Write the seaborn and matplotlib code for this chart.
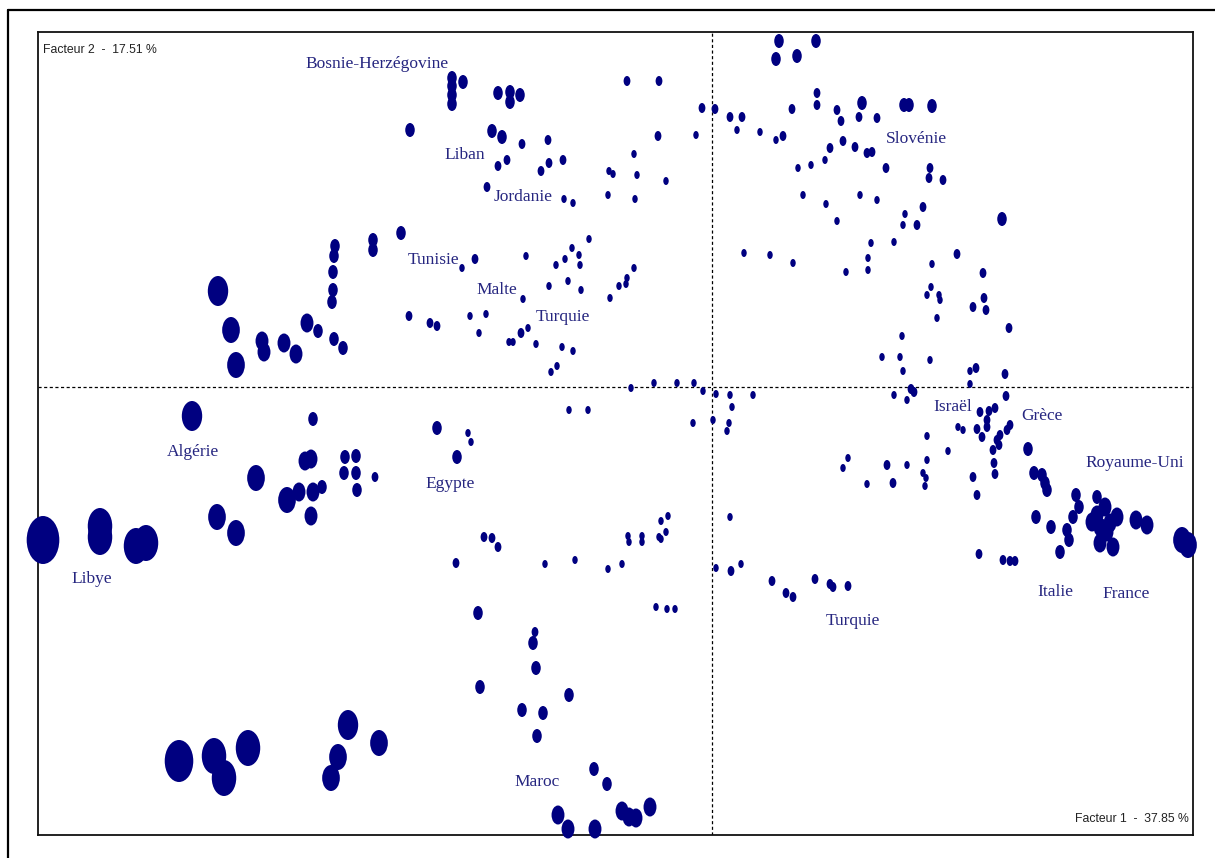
import numpy as np
import pandas as pd
import matplotlib
matplotlib.use("Agg")
import matplotlib.pyplot as plt
from matplotlib.path import Path
from matplotlib.lines import Line2D
import seaborn as sns

# points (facteur 1, facteur 2, poids), grouped by zone
nord_ouest = [
    (-3.02, 2.57, 3), (-3.11, 1.54, 3), (-3.03, 0.71, 2), (-3.77, 1.41, 3),
    (-3.78, 1.31, 3), (-3.79, 1.15, 3), (-3.79, 0.97, 3), (-3.80, 0.85, 3),
    (-3.39, 1.47, 3), (-3.39, 1.37, 3), (-4.94, 0.96, 6), (-4.81, 0.57, 5),
    (-4.76, 0.22, 5), (-4.50, 0.46, 4), (-4.48, 0.35, 4), (-4.28, 0.44, 4),
    (-4.16, 0.33, 4), (-4.05, 0.64, 4), (-3.94, 0.56, 3), (-3.78, 0.48, 3),
    (-3.69, 0.39, 3),
]

bosnie_liban = [
    (-2.60, 3.09, 3), (-2.60, 3.01, 3), (-2.60, 2.92, 3), (-2.60, 2.83, 3),
    (-2.49, 3.05, 3), (-2.14, 2.94, 3), (-2.02, 2.95, 3), (-2.02, 2.85, 3),
    (-1.92, 2.92, 3), (-2.20, 2.56, 3), (-2.10, 2.50, 3), (-1.90, 2.43, 2),
    (-1.64, 2.47, 2), (-2.14, 2.21, 2), (-2.05, 2.27, 2), (-1.71, 2.16, 2),
    (-1.63, 2.24, 2), (-1.49, 2.27, 2), (-2.25, 2.00, 2), (-1.48, 1.88, 1),
    (-1.39, 1.84, 1),
]

centre_nord = [
    (-0.85, 3.06, 2), (-0.53, 3.06, 2), (-0.10, 2.79, 2), (0.03, 2.78, 2),
    (-0.16, 2.52, 1), (-0.54, 2.51, 2), (-0.78, 2.33, 1), (-1.03, 2.16, 1),
    (-0.99, 2.13, 1), (-0.75, 2.12, 1), (-0.46, 2.06, 1), (-1.04, 1.92, 1),
    (-0.77, 1.88, 1),
]

tunisie_malte = [
    (-2.50, 1.19, 1), (-2.37, 1.28, 2), (-1.86, 1.31, 1), (-1.56, 1.22, 1),
    (-1.47, 1.28, 1), (-1.40, 1.39, 1), (-1.33, 1.32, 1), (-1.32, 1.22, 1),
    (-1.23, 1.48, 1), (-0.78, 1.19, 1), (-0.85, 1.09, 1), (-0.86, 1.03, 1),
    (-0.93, 1.01, 1), (-1.02, 0.89, 1), (-1.63, 1.01, 1), (-1.44, 1.06, 1),
    (-1.31, 0.97, 1), (-1.89, 0.88, 1), (-2.82, 0.64, 2), (-2.75, 0.61, 2),
    (-2.42, 0.71, 1), (-2.26, 0.73, 1), (-2.33, 0.54, 1), (-2.03, 0.45, 1),
    (-1.99, 0.45, 1), (-1.91, 0.54, 2), (-1.84, 0.59, 1), (-1.76, 0.43, 1),
    (-1.50, 0.40, 1), (-1.39, 0.36, 1), (-1.55, 0.21, 1), (-1.61, 0.15, 1),
]

centre = [
    (-0.81, -0.01, 1), (-0.58, 0.04, 1), (-0.35, 0.04, 1), (-0.18, 0.04, 1),
    (-0.09, -0.04, 1), (0.04, -0.07, 1), (0.18, -0.08, 1), (0.41, -0.08, 1),
    (-1.43, -0.23, 1), (-1.24, -0.23, 1), (-0.19, -0.36, 1), (0.01, -0.33, 1),
    (0.17, -0.36, 1), (0.15, -0.44, 1), (0.20, -0.20, 1),
]

slovenie = [
    (0.67, 3.46, 3), (1.04, 3.46, 3), (0.64, 3.28, 3), (0.85, 3.31, 3),
    (1.05, 2.94, 2), (1.05, 2.82, 2), (0.18, 2.70, 2), (0.30, 2.70, 2),
    (0.25, 2.57, 1), (0.48, 2.55, 1), (0.64, 2.47, 1), (0.71, 2.51, 2),
    (0.80, 2.78, 2), (1.25, 2.77, 2), (1.29, 2.66, 2), (1.50, 2.84, 3),
    (1.47, 2.70, 2), (1.65, 2.69, 2), (1.92, 2.82, 3), (1.97, 2.82, 3),
    (2.20, 2.81, 3), (1.18, 2.39, 2), (1.31, 2.46, 2), (1.43, 2.40, 2),
    (1.55, 2.34, 2), (1.60, 2.35, 2), (0.86, 2.19, 1), (0.99, 2.22, 1),
    (1.13, 2.27, 1), (1.74, 2.19, 2), (2.18, 2.19, 2), (2.17, 2.09, 2),
    (2.31, 2.07, 2), (0.91, 1.92, 1), (1.14, 1.83, 1), (1.25, 1.66, 1),
    (1.48, 1.92, 1), (1.65, 1.87, 1), (1.93, 1.73, 1), (1.91, 1.62, 1),
    (2.05, 1.62, 2), (2.11, 1.80, 2), (2.90, 1.68, 3),
]

est = [
    (0.32, 1.34, 1), (0.58, 1.32, 1), (0.81, 1.24, 1), (1.34, 1.15, 1),
    (1.56, 1.29, 1), (1.56, 1.17, 1), (1.59, 1.44, 1), (1.82, 1.45, 1),
    (2.45, 1.33, 2), (2.20, 1.23, 1), (2.19, 1.00, 1), (2.15, 0.92, 1),
    (2.27, 0.92, 1), (2.28, 0.87, 1), (2.25, 0.69, 1), (2.71, 1.14, 2),
    (2.72, 0.89, 2), (2.74, 0.77, 2), (2.61, 0.80, 2), (2.97, 0.59, 2),
    (1.90, 0.51, 1), (1.70, 0.30, 1), (1.88, 0.30, 1), (1.91, 0.16, 1),
    (2.18, 0.27, 1), (2.58, 0.16, 1), (2.64, 0.19, 2), (2.93, 0.13, 2),
    (2.58, 0.03, 1), (1.99, -0.02, 2), (2.02, -0.05, 2), (1.82, -0.08, 1),
    (1.95, -0.13, 1), (2.94, -0.09, 2),
]

israel_grece = [
    (2.68, -0.25, 2), (2.77, -0.24, 2), (2.83, -0.21, 2), (2.75, -0.33, 2),
    (2.75, -0.40, 2), (2.65, -0.42, 2), (2.51, -0.43, 1), (2.46, -0.40, 1),
    (2.70, -0.50, 2), (2.98, -0.38, 2), (2.95, -0.43, 2), (2.88, -0.48, 2),
    (2.85, -0.53, 2), (2.87, -0.58, 2), (2.81, -0.63, 2), (2.15, -0.49, 1),
    (2.36, -0.64, 1), (1.95, -0.78, 1), (2.15, -0.73, 1), (2.11, -0.86, 1),
    (2.14, -0.91, 1), (2.13, -0.99, 1), (2.61, -0.90, 2), (2.65, -1.08, 2),
    (2.82, -0.76, 2), (2.83, -0.87, 2), (1.36, -0.71, 1), (1.31, -0.81, 1),
    (1.55, -0.97, 1), (1.75, -0.78, 2), (1.81, -0.96, 2),
]

europe_ouest = [
    (3.16, -0.62, 3), (3.22, -0.86, 3), (3.30, -0.88, 3), (3.33, -0.96, 3),
    (3.35, -1.03, 3), (3.64, -1.08, 3), (3.67, -1.20, 3), (3.61, -1.30, 3),
    (3.55, -1.43, 3), (3.57, -1.53, 3), (3.48, -1.65, 3), (3.24, -1.30, 3),
    (3.39, -1.40, 3), (3.85, -1.10, 3), (3.93, -1.20, 4), (4.05, -1.30, 4),
    (3.80, -1.35, 4), (3.88, -1.40, 4), (3.98, -1.36, 4), (3.88, -1.56, 4),
    (4.01, -1.60, 4), (3.85, -1.28, 4), (3.95, -1.45, 4), (4.24, -1.33, 4),
    (4.35, -1.38, 4), (4.70, -1.53, 5), (4.76, -1.58, 5), (2.67, -1.67, 2),
    (2.91, -1.73, 2), (2.98, -1.74, 2), (3.03, -1.74, 2),
]

algerie = [
    (-5.20, -0.29, 6), (-3.99, -0.32, 3), (-4.07, -0.74, 4), (-4.01, -0.72, 4),
    (-3.67, -0.70, 3), (-3.56, -0.69, 3), (-3.68, -0.86, 3), (-3.56, -0.86, 3),
    (-3.37, -0.90, 2), (-3.55, -1.03, 3), (-4.56, -0.91, 5), (-4.25, -1.13, 5),
    (-4.13, -1.05, 4), (-3.99, -1.05, 4), (-3.90, -1.00, 3), (-4.01, -1.29, 4),
    (-4.95, -1.30, 5), (-4.76, -1.46, 5),
]

libye = [
    (-6.69, -1.53, 9), (-6.12, -1.39, 7), (-6.12, -1.50, 7), (-5.76, -1.59, 7),
    (-5.66, -1.56, 7), (-5.33, -3.74, 8), (-4.98, -3.69, 7), (-4.88, -3.91, 7),
    (-4.64, -3.61, 7), (-3.64, -3.38, 6), (-3.74, -3.70, 5), (-3.81, -3.91, 5),
    (-3.33, -3.56, 5),
]

egypte_maroc = [
    (-2.75, -0.41, 3), (-2.44, -0.46, 1), (-2.41, -0.55, 1), (-2.55, -0.70, 3),
    (-2.28, -1.50, 2), (-2.20, -1.51, 2), (-2.14, -1.60, 2), (-2.56, -1.76, 2),
    (-2.34, -2.26, 3), (-1.77, -2.45, 2), (-1.79, -2.56, 3), (-1.76, -2.81, 3),
    (-2.32, -3.00, 3), (-1.43, -3.08, 3), (-1.90, -3.23, 3), (-1.69, -3.26, 3),
    (-1.75, -3.49, 3), (-1.18, -3.82, 3), (-1.05, -3.97, 3), (-1.54, -4.28, 4),
    (-1.44, -4.42, 4), (-1.17, -4.42, 4), (-0.90, -4.24, 4), (-0.83, -4.30, 4),
    (-0.76, -4.31, 4), (-0.62, -4.20, 4),
]

centre_sud = [
    (-1.67, -1.77, 1), (-1.37, -1.73, 1), (-1.04, -1.82, 1), (-0.90, -1.77, 1),
    (-0.84, -1.49, 1), (-0.83, -1.55, 1), (-0.70, -1.49, 1), (-0.70, -1.55, 1),
    (-0.53, -1.50, 1), (-0.51, -1.52, 1), (-0.51, -1.34, 1), (-0.44, -1.29, 1),
    (-0.46, -1.45, 1), (0.18, -1.30, 1), (0.04, -1.81, 1), (0.19, -1.84, 2),
    (0.29, -1.77, 1), (-0.56, -2.20, 1), (-0.45, -2.22, 1), (-0.37, -2.22, 1),
]

turquie_sud = [
    (0.60, -1.94, 2), (0.74, -2.06, 2), (0.81, -2.10, 2), (1.03, -1.92, 2),
    (1.18, -1.97, 2), (1.21, -2.00, 2), (1.36, -1.99, 2),
]

# country labels
pays = ["Bosnie-Herzégovine", "Liban", "Jordanie", "Tunisie", "Malte", "Turquie",
        "Slovénie", "Algérie", "Egypte", "Libye", "Maroc", "Turquie", "Israël",
        "Grèce", "Royaume-Uni", "Italie", "France"]
pays_f1 = [-3.35, -2.47, -1.89, -2.79, -2.15, -1.49, 2.04, -5.19, -2.62, -6.20,
           -1.75, 1.41, 2.41, 3.30, 4.23, 3.43, 4.14]
pays_f2 = [3.23, 2.32, 1.90, 1.27, 0.97, 0.70, 2.48, -0.65, -0.97, -1.92,
           -3.95, -2.34, -0.20, -0.29, -0.76, -2.05, -2.07]

inertie = {"Facteur 1": 37.85, "Facteur 2": 17.51}

zones = [nord_ouest, bosnie_liban, centre_nord, tunisie_malte, centre, slovenie,
         est, israel_grece, europe_ouest, algerie, libye, egypte_maroc,
         centre_sud, turquie_sud]
df = pd.DataFrame([p for z in zones for p in z], columns=["f1", "f2", "poids"])

# marker heights in px for each weight level -> area in pt^2 (dpi 100)
hauteur_px = {1: 8, 2: 10, 3: 14, 4: 19, 5: 26, 6: 30, 7: 36, 8: 42, 9: 48}
tailles = {k: (v * 0.72) ** 2 for k, v in hauteur_px.items()}

circ = Path.unit_circle()
ellipse = Path(circ.vertices * [0.68, 1.0], circ.codes)

sns.set_style("white")

W, H = 1215, 858
fig = plt.figure(figsize=(W / 100, H / 100), dpi=100)
ax = fig.add_axes([38 / W, (H - 835) / H, (1193 - 38) / W, (835 - 32) / H])

sns.scatterplot(data=df, x="f1", y="f2", size="poids", sizes=tailles,
                marker=ellipse, color="#000080", linewidth=0, edgecolor="none",
                legend=False, ax=ax, clip_on=False, zorder=4)

ax.set_xlim(-6.74, 4.81)
ax.set_ylim(-4.48, 3.55)
ax.axhline(0, color="black", lw=0.9, ls=(0, (2.5, 2)), zorder=1)
ax.axvline(0, color="black", lw=0.9, ls=(0, (2.5, 2)), zorder=1)
ax.set_xticks([])
ax.set_yticks([])
ax.set_xlabel("")
ax.set_ylabel("")
for s in ax.spines.values():
    s.set_visible(True)
    s.set_color("#111111")
    s.set_linewidth(1.3)

for nom, x, y in zip(pays, pays_f1, pays_f2):
    ax.text(x, y, nom, ha="center", va="center", fontsize=12.5,
            family=["Liberation Serif", "DejaVu Serif"], color="#262680", zorder=5)

ax.text(0.004, 0.985, "Facteur 2  -  %.2f %%" % inertie["Facteur 2"],
        transform=ax.transAxes, ha="left", va="top", fontsize=8.8,
        family=["Liberation Sans", "DejaVu Sans"], color="#222222")
ax.text(0.996, 0.012, "Facteur 1  -  %.2f %%" % inertie["Facteur 1"],
        transform=ax.transAxes, ha="right", va="bottom", fontsize=8.8,
        family=["Liberation Sans", "DejaVu Sans"], color="#222222")

# outer frame (only left and top edges are visible in the crop)
fig.add_artist(Line2D([8 / W, 8 / W], [0, 1 - 10 / H], color="black", lw=1.6))
fig.add_artist(Line2D([8 / W, 1], [1 - 10 / H, 1 - 10 / H], color="black", lw=1.6))

fig.savefig("out.png", dpi=100)
